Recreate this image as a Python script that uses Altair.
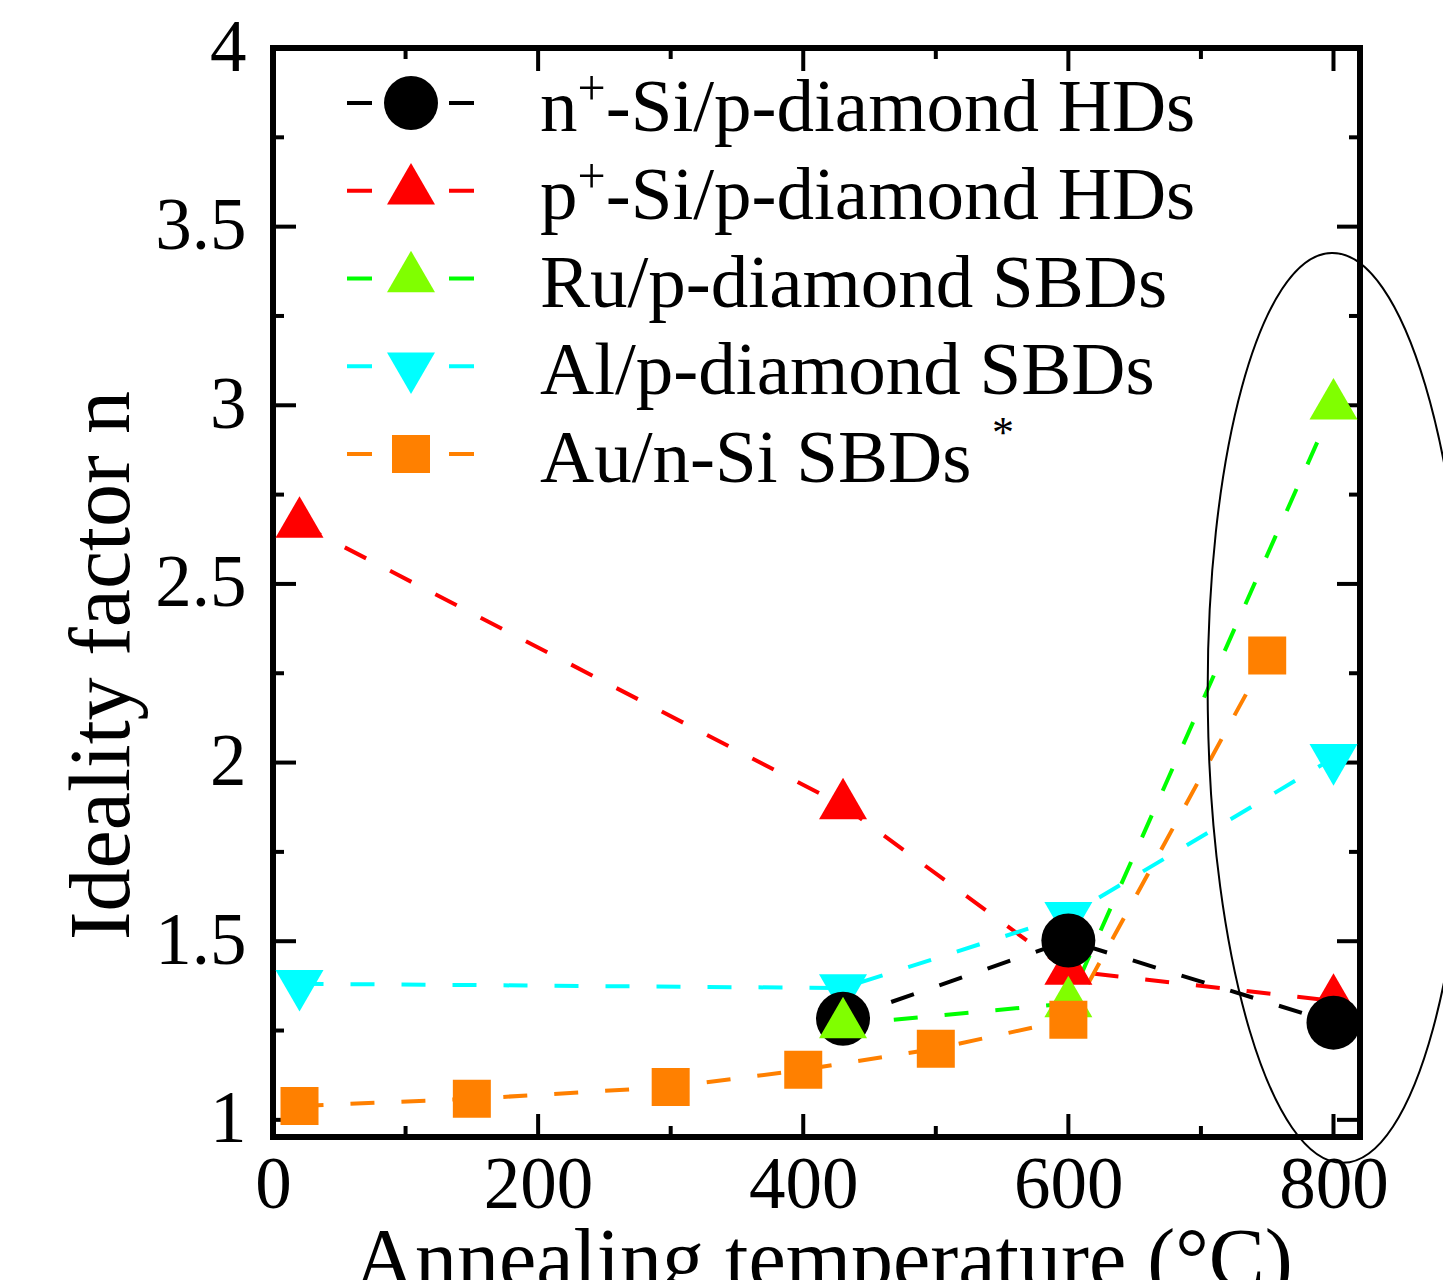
import altair as alt
import pandas as pd

# ---------------- data ----------------
series = ["n⁺-Si/p-diamond HDs", "p⁺-Si/p-diamond HDs", "Ru/p-diamond SBDs",
          "Al/p-diamond SBDs", "Au/n-Si SBDs"]
# legend label pieces (base letter, superscript, remainder)
label_pre = ["n", "p", "", "", ""]
label_sup = ["+", "+", "", "", ""]
label_rest = ["-Si/p-diamond HDs", "-Si/p-diamond HDs", "Ru/p-diamond SBDs",
              "Al/p-diamond SBDs", "Au/n-Si SBDs"]

n_temp = [430, 600, 800]
n_val = [1.283, 1.502, 1.272]
p_temp = [20, 430, 600, 800]
p_val = [2.668, 1.880, 1.417, 1.333]
ru_temp = [430, 600, 800]
ru_val = [1.267, 1.326, 2.999]
al_temp = [20, 430, 600, 800]
al_val = [1.381, 1.369, 1.571, 2.013]
au_temp = [20, 150, 300, 400, 500, 600, 750]
au_val = [1.039, 1.059, 1.092, 1.140, 1.199, 1.280, 2.300]

x_ticks_major = [0, 200, 400, 600, 800]
x_ticks_minor = [100, 300, 500, 700]
y_ticks_major = [1, 1.5, 2, 2.5, 3, 3.5, 4]
y_ticks_minor = [1.25, 1.75, 2.25, 2.75, 3.25, 3.75]

ellipse_temp = [803]
ellipse_val = [2.153]

# ---------------- styles ----------------
FONT = "Liberation Serif"
W, H = 1087, 1089
line_colors = ["#000000", "#ff0000", "#00ff00", "#00ffff", "#ff8000"]
marker_colors = ["#000000", "#ff0000", "#80ff00", "#00ffff", "#ff8000"]
TRI_UP = "M0,-1.155 L1,0.577 L-1,0.577 Z"
TRI_DOWN = "M0,1.155 L1,-0.577 L-1,-0.577 Z"
shapes = ["circle", TRI_UP, TRI_UP, TRI_DOWN, "square"]
sizes = [2916, 2304, 2304, 2304, 1444]
draw_z = [3, 1, 4, 2, 5]
ELLIPSE = ("M0,-1 C0.1574,-1 0.285,-0.5523 0.285,0 C0.285,0.5523 0.1574,1 0,1 "
           "C-0.1574,1 -0.285,0.5523 -0.285,0 C-0.285,-0.5523 -0.1574,-1 0,-1 Z")

temps = [n_temp, p_temp, ru_temp, al_temp, au_temp]
vals = [n_val, p_val, ru_val, al_val, au_val]

rows = []
for i, s in enumerate(series):
    for t, v in zip(temps[i], vals[i]):
        rows.append(dict(series=s, temp=t, val=v, lcolor=line_colors[i],
                         mcolor=marker_colors[i], mshape=shapes[i],
                         msize=sizes[i], z=draw_z[i]))
df = pd.DataFrame(rows)
df_pts = df.sort_values("z", kind="stable")

x_scale = alt.Scale(domain=[0, 820], nice=False, zero=False)
y_scale = alt.Scale(domain=[0.952, 4.0], nice=False, zero=False)

x_axis = alt.Axis(values=x_ticks_major, ticks=False, tickSize=0, domain=False, grid=False,
                  labelFont=FONT, labelFontSize=73, labelColor="black", labelPadding=70,
                  labelBaseline="alphabetic", labelFlush=False, labelOverlap=False,
                  titleFont=FONT, titleFontSize=84, titleFontWeight="normal",
                  titleColor="black", titleX=550, titleY=149, titleAlign="center",
                  titleBaseline="alphabetic")
y_axis = alt.Axis(values=y_ticks_major, format=".1~f", ticks=False, tickSize=0, domain=False,
                  grid=False, labelFont=FONT, labelFontSize=73, labelColor="black",
                  labelPadding=27, labelFlush=False, labelOverlap=False,
                  titleFont=FONT, titleFontSize=86, titleFontWeight="normal",
                  titleColor="black", titleX=-145, titleY=617, titleAngle=270,
                  titleAlign="center", titleBaseline="alphabetic")

X = alt.X("temp:Q", scale=x_scale, axis=x_axis, title="Annealing temperature (°C)")
Y = alt.Y("val:Q", scale=y_scale, axis=y_axis, title="Ideality factor n")

lines = alt.Chart(df).mark_line(strokeWidth=4, strokeDash=[24, 27]).encode(
    x=X, y=Y,
    detail="series:N",
    stroke=alt.Stroke("lcolor:N", scale=None),
    order=alt.Order("temp:Q"),
)

points = alt.Chart(df_pts).mark_point(filled=True, opacity=1, strokeWidth=0).encode(
    x=X, y=Y,
    fill=alt.Fill("mcolor:N", scale=None),
    shape=alt.Shape("mshape:N", scale=None),
    size=alt.Size("msize:Q", scale=None),
    order=alt.Order("z:Q"),
)

ell_df = pd.DataFrame({"temp": ellipse_temp, "val": ellipse_val})
ellipse = alt.Chart(ell_df).mark_point(
    shape=ELLIPSE, size=910 * 910, filled=False, stroke="black", strokeWidth=2,
    opacity=1, angle=359.3
).encode(x=X, y=Y)

# ---- frame ticks (inward, all four sides) ----
def xticks(vals_, length, top):
    d = pd.DataFrame({"temp": vals_})
    if top:
        y0, y1 = 0, length
    else:
        y0, y1 = H, H - length
    return alt.Chart(d).mark_rule(strokeWidth=4, color="black").encode(
        x=X, y=alt.value(y0), y2=alt.value(y1))

def yticks(vals_, length, right):
    d = pd.DataFrame({"val": vals_})
    if right:
        x0, x1 = W, W - length
    else:
        x0, x1 = 0, length
    return alt.Chart(d).mark_rule(strokeWidth=4, color="black").encode(
        y=Y, x=alt.value(x0), x2=alt.value(x1))

ticks = [
    xticks(x_ticks_major, 23, False), xticks(x_ticks_minor, 11, False),
    xticks(x_ticks_major, 23, True), xticks(x_ticks_minor, 11, True),
    yticks(y_ticks_major, 23, False), yticks(y_ticks_minor, 11, False),
    yticks(y_ticks_major, 23, True), yticks(y_ticks_minor, 11, True),
]

# ---- legend (manual, pixel layout) ----
LEG_FS = 75
SUP_FS = 50
leg_y0, leg_dy = 55, 87.75
leg = pd.DataFrame({
    "pre": label_pre, "sup": label_sup, "rest": label_rest,
    "ly": [leg_y0 + i * leg_dy for i in range(len(series))],
    "lcolor": line_colors, "mcolor": marker_colors,
    "mshape": shapes, "msize": sizes,
})
leg["ty"] = leg["ly"] + 28
leg["sy"] = leg["ty"] - 26
leg["mx"] = 138
leg["x1"] = 74
leg["x2"] = 201
leg["tx"] = 267
leg["supx"] = 267 + 0.5 * LEG_FS
leg["restx"] = [267 + (0.5 * LEG_FS + 0.564 * SUP_FS if s else 0) for s in label_sup]

leg_lines = alt.Chart(leg).mark_rule(strokeWidth=4, strokeDash=[25, 77]).encode(
    x=alt.X("x1:Q", scale=None), x2="x2:Q",
    y=alt.Y("ly:Q", scale=None),
    stroke=alt.Stroke("lcolor:N", scale=None),
)
leg_pts = alt.Chart(leg).mark_point(filled=True, opacity=1, strokeWidth=0).encode(
    x=alt.X("mx:Q", scale=None), y=alt.Y("ly:Q", scale=None),
    fill=alt.Fill("mcolor:N", scale=None),
    shape=alt.Shape("mshape:N", scale=None),
    size=alt.Size("msize:Q", scale=None),
)
txt_kw = dict(font=FONT, align="left", baseline="alphabetic", color="black")
leg_pre = alt.Chart(leg).mark_text(fontSize=LEG_FS, **txt_kw).encode(
    x=alt.X("tx:Q", scale=None), y=alt.Y("ty:Q", scale=None), text="pre:N")
leg_sup = alt.Chart(leg).mark_text(fontSize=SUP_FS, **txt_kw).encode(
    x=alt.X("supx:Q", scale=None), y=alt.Y("sy:Q", scale=None), text="sup:N")
leg_rest = alt.Chart(leg).mark_text(fontSize=LEG_FS, **txt_kw).encode(
    x=alt.X("restx:Q", scale=None), y=alt.Y("ty:Q", scale=None), text="rest:N")
star = alt.Chart(pd.DataFrame({"t": ["*"], "sx": [730], "sy": [399]})).mark_text(
    font=FONT, fontSize=44, align="center", baseline="alphabetic", color="black"
).encode(x=alt.X("sx:Q", scale=None), y=alt.Y("sy:Q", scale=None), text="t:N")

chart = alt.layer(
    lines, *ticks, points, ellipse, leg_lines, leg_pts, leg_pre, leg_sup, leg_rest, star
).properties(
    width=W, height=H,
    autosize=alt.AutoSizeParams(type="none"),
    padding={"left": 265, "top": 40, "right": 83, "bottom": 143},
    background="white",
).configure_view(stroke="black", strokeWidth=6)

chart.save("out.html", embed_options={"renderer": "svg", "actions": False})
